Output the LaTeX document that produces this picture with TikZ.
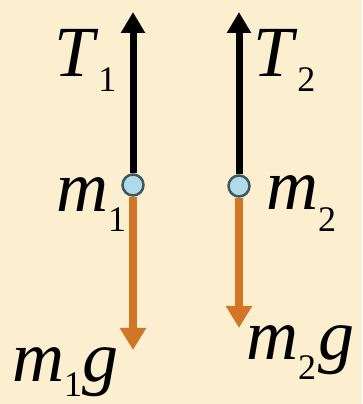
\documentclass[tikz,border=0pt]{standalone}
\usepackage{fontspec}
\setmainfont{Liberation Serif}
\usepackage{xcolor}
\usetikzlibrary{arrows.meta}
\definecolor{paper}{RGB}{252,239,207}
\definecolor{pull}{RGB}{208,118,36}
\definecolor{ball}{RGB}{176,218,232}
\definecolor{rim}{RGB}{60,88,96}
\newcommand{\qlbl}[3]{\textit{#1}\raisebox{-#3pt}{\fontsize{36}{36}\selectfont #2}}

\begin{document}
\begin{tikzpicture}[x=1pt, y=1pt,
  lbl/.style={inner sep=0pt, anchor=base west, font=\fontsize{72}{72}\selectfont},
  mass/.style={circle, draw=rim, line width=2.5pt, fill=ball, minimum size=21pt, inner sep=0pt},
  stringarr/.style={-{Triangle[length=21pt, width=23pt]}, line width=7pt, black},
  gravarr/.style={-{Triangle[length=22pt, width=25pt]}, line width=8pt, pull}]
  \fill[paper] (0,0) rectangle (362,404);
  \useasboundingbox (0,0) rectangle (362,404);
  % left string
  \coordinate (top1) at (133,392);
  \coordinate (bot1) at (133,54);
  \node[mass] (ball1) at (133,219) {};
  \draw[stringarr] (ball1) -- (top1);
  \draw[gravarr] (ball1) -- (bot1);
  % right string
  \coordinate (top2) at (239,392);
  \coordinate (bot2) at (239,76);
  \node[mass] (ball2) at (239,218) {};
  \draw[stringarr] (ball2) -- (top2);
  \draw[gravarr] (ball2) -- (bot2);
  % labels
  \node[lbl] (T1) at (54,327) {\qlbl{T}{1}{15}};
  \node[lbl] (T2) at (253,327) {\qlbl{T}{2}{15}};
  \node[lbl] (m1) at (56,192) {\qlbl{m}{1}{20}};
  \node[lbl] (m2) at (266,194) {\qlbl{m}{2}{22}};
  \node[lbl] (m1g) at (12,23) {\qlbl{m}{1}{16}\textit{g}};
  \node[lbl] (m2g) at (246,44) {\qlbl{m}{2}{20}\kern2pt\textit{g}};
\end{tikzpicture}
\end{document}
